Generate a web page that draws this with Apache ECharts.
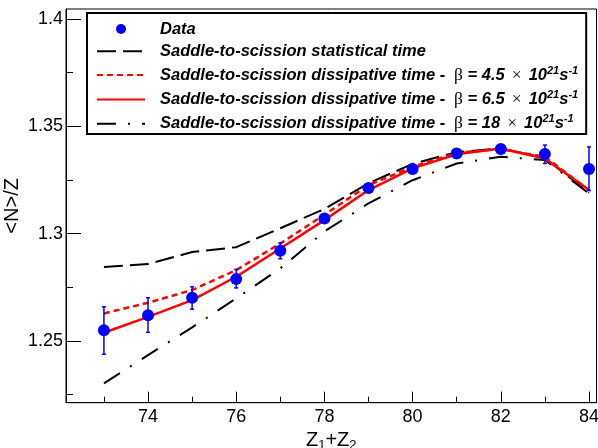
<!DOCTYPE html>
<html><head><meta charset="utf-8">
<script src="https://cdn.jsdelivr.net/npm/echarts@6/dist/echarts.min.js"></script>
<style>html,body{margin:0;padding:0;background:#fff}#c{width:598px;height:448px}</style>
</head><body><div id="c"></div>
<script>
// ---- data ----
const zValues   = [73, 74, 75, 76, 77, 78, 79, 80, 81, 82, 83, 84];
const dataY     = [1.2550, 1.2620, 1.2701, 1.2788, 1.2920, 1.3071, 1.3213, 1.3301, 1.3374, 1.3394, 1.3371, 1.3301];
const dataErrLo = [1.2438, 1.2540, 1.2648, 1.2747, 1.2883, 1.3056, 1.3198, 1.3286, 1.3359, 1.3379, 1.3327, 1.3201];
const dataErrHi = [1.2659, 1.2701, 1.2752, 1.2833, 1.2957, 1.3086, 1.3228, 1.3316, 1.3389, 1.3409, 1.3413, 1.3404];
const statTime  = [1.2844, 1.2858, 1.2914, 1.2937, 1.3025, 1.3115, 1.3235, 1.3325, 1.3380, 1.3397, 1.3352, 1.3190];
const beta45    = [1.2628, 1.2678, 1.2737, 1.2830, 1.2954, 1.3088, 1.3226, 1.3311, 1.3377, 1.3394, 1.3358, 1.3203];
const beta65    = [1.2538, 1.2612, 1.2690, 1.2799, 1.2931, 1.3063, 1.3203, 1.3304, 1.3370, 1.3397, 1.3350, 1.3203];
const beta18    = [1.2302, 1.2434, 1.2563, 1.2698, 1.2838, 1.3010, 1.3141, 1.3249, 1.3327, 1.3358, 1.3343, 1.3187];
const xMajorTicks = [74, 76, 78, 80, 82, 84];
const xMinorTicks = [73, 75, 77, 79, 81, 83];
const yMajorTicks = [1.25, 1.3, 1.35, 1.4];
const yMinorTicks = [1.225, 1.275, 1.325, 1.375];
const seriesNames = [
  'Data',
  'Saddle-to-scission statistical time',
  'Saddle-to-scission dissipative time - β = 4.5 × 10^21 s^-1',
  'Saddle-to-scission dissipative time - β = 6.5 × 10^21 s^-1',
  'Saddle-to-scission dissipative time - β = 18 × 10^21 s^-1'
];
const legendRich = {};
legendRich[seriesNames[0]] = '{sp|}{t|Data}';
legendRich[seriesNames[1]] = '{sp|}{t|Saddle-to-scission statistical time}';
legendRich[seriesNames[2]] = '{sp|}{t|Saddle-to-scission dissipative time - }{r| β}{t| = 4.5}{g|}{r|×}{g|}{t|10}{sup|21}{t|s}{sup|-1}';
legendRich[seriesNames[3]] = '{sp|}{t|Saddle-to-scission dissipative time - }{r| β}{t| = 6.5}{g|}{r|×}{g|}{t|10}{sup|21}{t|s}{sup|-1}';
legendRich[seriesNames[4]] = '{sp|}{t|Saddle-to-scission dissipative time - }{r| β}{t| = 18}{g|}{r|×}{g|}{t|10}{sup|21}{t|s}{sup|-1}';

const X_MIN = 72.14, X_MAX = 84.17, Y_MIN = 1.2212, Y_MAX = 1.4047;
const FONT = 'Liberation Sans, Arial, Helvetica, sans-serif';

const pairs = arr => zValues.map((z, i) => [z, arr[i]]);

const chart = echarts.init(document.getElementById('c'), null, {renderer: 'canvas'});
chart.setOption({
  animation: false,
  backgroundColor: '#fff',
  grid: {left: 66, right: 1.5, top: 9, bottom: 45.3, show: true, borderColor: '#000', borderWidth: 1,
         backgroundColor: 'transparent', containLabel: false, outerBoundsMode: 'none'},
  legend: {
    orient: 'vertical', left: 87, top: 13,
    backgroundColor: '#fff', borderColor: '#000', borderWidth: 2,
    padding: [7.5, 8, 1.3, 9], itemGap: 5.3, itemWidth: 48, itemHeight: 10,
    data: seriesNames.map((n, i) => i === 0 ? {name: n} : {name: n, itemStyle: {opacity: 0}}),
    formatter: name => legendRich[name],
    textStyle: {
      rich: {
        sp: {width: 10},
        g: {width: 7},
        t: {fontFamily: FONT, fontWeight: 'bold', fontStyle: 'italic', fontSize: 16.5, lineHeight: 20, color: '#000'},
        r: {fontFamily: 'Liberation Serif, DejaVu Serif, serif', fontSize: 17.5, lineHeight: 20, color: '#000'},
        sup: {fontFamily: FONT, fontWeight: 'bold', fontStyle: 'italic', fontSize: 11, lineHeight: 12, verticalAlign: 'top', color: '#000'}
      }
    }
  },
  xAxis: [{
    type: 'value', min: X_MIN, max: X_MAX, position: 'bottom',
    axisLine: {show: true, onZero: false, lineStyle: {color: '#000', width: 1}},
    axisTick: {show: true, inside: true, length: 11, customValues: xMajorTicks, lineStyle: {color: '#000', width: 1}},
    axisLabel: {show: true, customValues: xMajorTicks, fontSize: 18, fontFamily: FONT, color: '#000', margin: 5},
    splitLine: {show: false},
    name: '{a|Z}{s|1}{a|+Z}{s|2}', nameLocation: 'middle', nameGap: 22,
    nameTextStyle: {rich: {
      a: {fontFamily: FONT, fontSize: 20, lineHeight: 22, color: '#000'},
      s: {fontFamily: FONT, fontSize: 13, lineHeight: 14, verticalAlign: 'bottom', color: '#000'}
    }}
  }, {
    type: 'value', min: X_MIN, max: X_MAX, position: 'bottom',
    axisLine: {show: false, onZero: false},
    axisTick: {show: true, inside: true, length: 6, customValues: xMinorTicks, lineStyle: {color: '#000', width: 1}},
    axisLabel: {show: false}, splitLine: {show: false}
  }],
  yAxis: [{
    type: 'value', min: Y_MIN, max: Y_MAX, position: 'left',
    axisLine: {show: true, onZero: false, lineStyle: {color: '#000', width: 1}},
    axisTick: {show: true, inside: true, length: 15, customValues: yMajorTicks, lineStyle: {color: '#000', width: 1}},
    axisLabel: {show: true, customValues: yMajorTicks, fontSize: 18, fontFamily: FONT, color: '#000', margin: 3},
    splitLine: {show: false},
    name: '<N>/Z', nameLocation: 'middle', nameGap: 44, nameMoveOverlap: false,
    nameTextStyle: {fontFamily: FONT, fontSize: 20, color: '#000'}
  }, {
    type: 'value', min: Y_MIN, max: Y_MAX, position: 'left',
    axisLine: {show: false, onZero: false},
    axisTick: {show: true, inside: true, length: 7, customValues: yMinorTicks, lineStyle: {color: '#000', width: 1}},
    axisLabel: {show: false}, splitLine: {show: false}
  }],
  series: [
    {
      name: seriesNames[1], type: 'line', data: pairs(statTime), symbol: 'none', z: 2,
      lineStyle: {color: '#000', width: 2, type: [19, 7]}, itemStyle: {color: '#000'}
    },
    {
      name: seriesNames[2], type: 'line', data: pairs(beta45), symbol: 'none', z: 3,
      lineStyle: {color: '#ff0000', width: 2.5, type: [6, 4]}, itemStyle: {color: '#ff0000'}
    },
    {
      name: seriesNames[3], type: 'line', data: pairs(beta65), symbol: 'none', z: 4,
      lineStyle: {color: '#ff0000', width: 2.5, type: 'solid'}, itemStyle: {color: '#ff0000'}
    },
    {
      name: seriesNames[4], type: 'line', data: pairs(beta18), symbol: 'none', z: 2,
      lineStyle: {color: '#000', width: 2, type: [19, 12, 2, 12]}, itemStyle: {color: '#000'}
    },
    {
      name: 'errors', type: 'custom', z: 5,
      data: zValues.map((z, i) => [z, dataErrLo[i], dataErrHi[i]]),
      encode: {x: 0, y: [1, 2]},
      renderItem: function (params, api) {
        const lo = api.coord([api.value(0), api.value(1)]);
        const hi = api.coord([api.value(0), api.value(2)]);
        const cw = 2;
        const st = {stroke: '#0000ff', lineWidth: 1.5};
        return {type: 'group', children: [
          {type: 'line', shape: {x1: lo[0], y1: lo[1], x2: hi[0], y2: hi[1]}, style: st},
          {type: 'line', shape: {x1: lo[0] - cw, y1: lo[1], x2: lo[0] + cw, y2: lo[1]}, style: st},
          {type: 'line', shape: {x1: hi[0] - cw, y1: hi[1], x2: hi[0] + cw, y2: hi[1]}, style: st}
        ]};
      }
    },
    {
      name: seriesNames[0], type: 'scatter', data: pairs(dataY), symbol: 'circle', symbolSize: 12, z: 6,
      itemStyle: {color: '#0000ff', opacity: 1}
    }
  ]
});
</script>
</body></html>
